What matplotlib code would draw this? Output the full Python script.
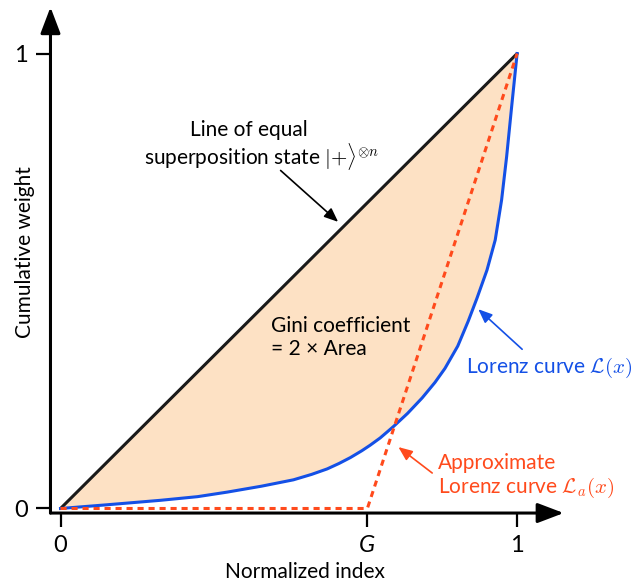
import numpy as np
import matplotlib.pyplot as plt

plt.rcParams['font.family'] = ['Lato', 'DejaVu Sans']
plt.rcParams['mathtext.fontset'] = 'cm'

# Gini index position on the x axis
G = 0.672

# Lorenz curve read as (index, cumulative weight) pairs
lorenz_x = [0, 0.05, 0.10, 0.219, 0.30, 0.365, 0.44, 0.51, 0.55, 0.584, 0.61,
            0.635, 0.66, 0.678, 0.70, 0.729, 0.76, 0.792, 0.82, 0.842, 0.87,
            0.893, 0.912, 0.934, 0.952, 0.966, 0.977, 0.988, 1.0]
lorenz_y = [0, 0.004, 0.008, 0.018, 0.026, 0.036, 0.049, 0.063, 0.075, 0.087, 0.099,
            0.112, 0.127, 0.139, 0.155, 0.180, 0.209, 0.243, 0.277, 0.308, 0.357,
            0.412, 0.462, 0.524, 0.590, 0.678, 0.773, 0.883, 1.0]

# Approximate (piecewise linear) Lorenz curve
approx_x = [0, G, 1]
approx_y = [0, 0, 1]

xtick_pos = [0, G, 1]
xtick_labels = ['0', 'G', '1']
ytick_pos = [0, 1]
ytick_labels = ['0', '1']

blue = '#1450e6'
red = '#ff4a1c'
peach = '#fde1c4'

fig = plt.figure(figsize=(6.39, 5.83), dpi=100)
ax = fig.add_axes([0.079, 0.120, 0.816, 0.874])
xlo, xhi = -0.022, 1.12
ylo, yhi = -0.01, 1.11
ax.set_xlim(xlo, xhi)
ax.set_ylim(ylo, yhi)
for s in ax.spines.values():
    s.set_visible(False)

lx = np.array(lorenz_x)
ly = np.array(lorenz_y)
ax.fill_between(lx, ly, lx, color=peach, lw=0, zorder=1)
ax.plot([0, 1], [0, 1], color='#1a1a1a', lw=2.2, zorder=3, solid_capstyle='round')
ax.plot(lx, ly, color=blue, lw=2.2, zorder=4)
ax.plot(approx_x, approx_y, color=red, lw=2.2, ls=(0, (2.0, 1.6)), zorder=5)

# axes with arrow heads
arrow = dict(arrowstyle='-|>,head_length=1.0,head_width=0.38', color='black',
             lw=2.2, mutation_scale=16, shrinkA=0, shrinkB=0)
ax.annotate('', xy=(1.102, ylo), xytext=(xlo, ylo), arrowprops=arrow,
            annotation_clip=False)
ax.annotate('', xy=(xlo, 1.102), xytext=(xlo, ylo), arrowprops=arrow,
            annotation_clip=False)

ax.set_xticks(xtick_pos)
ax.set_xticklabels(xtick_labels)
ax.get_xticklabels()[1].set_fontstyle('italic')
ax.set_yticks(ytick_pos)
ax.set_yticklabels(ytick_labels)
ax.tick_params(axis='both', direction='out', length=10, width=1.6,
               labelsize=17, pad=6)
ax.set_xlabel('Normalized index', fontsize=15)
ax.set_ylabel('Cumulative weight', fontsize=15)
ax.xaxis.set_label_coords(0.488, -0.116)
ax.yaxis.set_label_coords(-0.049, 0.512)
ax.xaxis.label.set_va('center')
ax.yaxis.label.set_va('center')

# annotations
ax.text(0.413, 0.832, 'Line of equal', fontsize=15, ha='center', va='center')
ax.text(0.441, 0.774, 'superposition state $|{+}\\rangle^{\\otimes n}$',
        fontsize=15, ha='center', va='center')
ax.annotate('', xy=(0.608, 0.630), xytext=(0.482, 0.743),
            arrowprops=dict(arrowstyle='-|>,head_length=0.6,head_width=0.25',
                            color='black', lw=1.2, mutation_scale=14,
                            shrinkA=0, shrinkB=0))

ax.text(0.46, 0.375, 'Gini coefficient\n= 2 × Area', fontsize=15,
        ha='left', va='center', linespacing=1.2)

ax.text(0.888, 0.31, 'Lorenz curve $\\mathcal{L}(x)$', fontsize=15,
        color=blue, ha='left', va='center')
ax.annotate('', xy=(0.915, 0.438), xytext=(1.011, 0.350),
            arrowprops=dict(arrowstyle='-|>,head_length=0.6,head_width=0.25',
                            color=blue, lw=1.2, mutation_scale=14,
                            shrinkA=0, shrinkB=0))

ax.text(0.827, 0.100, 'Approximate', fontsize=15, color=red,
        ha='left', va='center')
ax.text(0.827, 0.045, 'Lorenz curve $\\mathcal{L}_a(x)$', fontsize=15,
        color=red, ha='left', va='center')
ax.annotate('', xy=(0.740, 0.135), xytext=(0.814, 0.078),
            arrowprops=dict(arrowstyle='-|>,head_length=0.6,head_width=0.25',
                            color=red, lw=1.2, mutation_scale=14,
                            shrinkA=0, shrinkB=0))

fig.savefig('out.png', dpi=100)
